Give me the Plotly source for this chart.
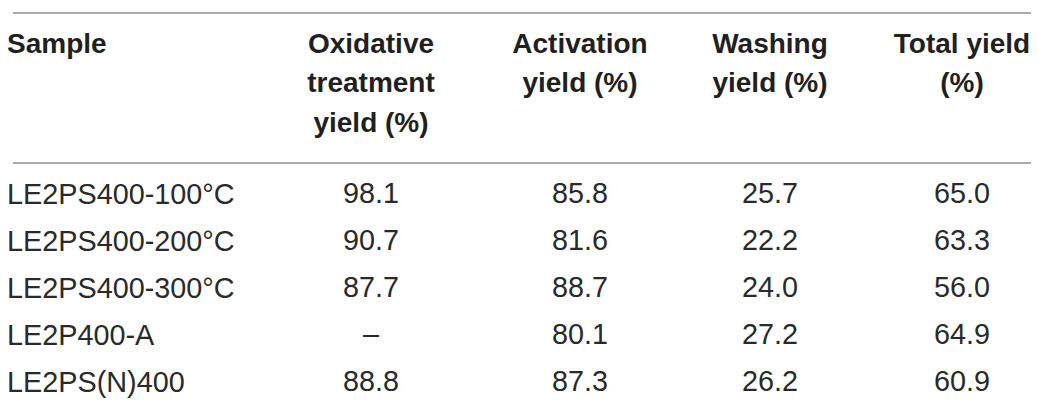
import plotly.graph_objects as go

# ---- data ----
header_sample = ["Sample"]
header_oxidative = ["Oxidative", "treatment", "yield (%)"]
header_activation = ["Activation", "yield (%)"]
header_washing = ["Washing", "yield (%)"]
header_total = ["Total yield", "(%)"]

samples = ["LE2PS400-100°C", "LE2PS400-200°C", "LE2PS400-300°C", "LE2P400-A", "LE2PS(N)400"]
oxidative_yield = [98.1, 90.7, 87.7, None, 88.8]
activation_yield = [85.8, 81.6, 88.7, 80.1, 87.3]
washing_yield = [25.7, 22.2, 24.0, 27.2, 26.2]
total_yield = [65.0, 63.3, 56.0, 64.9, 60.9]

# ---- layout constants (pixel space) ----
W, H = 1039, 402
col_x = [6, 363, 572, 762, 954]
header_line_y = [38, 77, 117]
row_y = [188, 235, 282, 329, 376]
TEXT = "#231f20"
BODY = "#2a2a2a"
RULE = "#8f8f8f"
FONT = "Liberation Sans, Arial, Helvetica, sans-serif"
HEAD_SIZE = 28
BODY_SIZE = 28.8


def fmt(v):
    return "–" if v is None else f"{v:.1f}"


fig = go.Figure()

# left-aligned first column as annotations
for t in header_sample:
    fig.add_annotation(x=col_x[0], y=header_line_y[0], xref="x", yref="y",
                       text=f"<b>{t}</b>", showarrow=False, xanchor="left", yanchor="middle",
                       xshift=-9, yshift=3,
                       font=dict(family=FONT, size=HEAD_SIZE, color=TEXT))
for j, s in enumerate(samples):
    fig.add_annotation(x=col_x[0], y=row_y[j], xref="x", yref="y",
                       text=s, showarrow=False, xanchor="left", yanchor="middle",
                       xshift=-9, yshift=2,
                       font=dict(family=FONT, size=BODY_SIZE, color=BODY))

headers = [header_oxidative, header_activation, header_washing, header_total]
for i, lines in enumerate(headers, start=1):
    fig.add_trace(go.Scatter(
        x=[col_x[i]] * len(lines),
        y=header_line_y[:len(lines)],
        text=[f"<b>{t}</b>" for t in lines],
        mode="text",
        textposition="middle center",
        textfont=dict(family=FONT, size=HEAD_SIZE, color=TEXT),
        hoverinfo="skip", showlegend=False,
    ))

columns = [[fmt(v) for v in oxidative_yield],
           [fmt(v) for v in activation_yield],
           [fmt(v) for v in washing_yield],
           [fmt(v) for v in total_yield]]
for i, vals in enumerate(columns, start=1):
    fig.add_trace(go.Scatter(
        x=[col_x[i]] * len(vals),
        y=row_y[:len(vals)],
        text=vals,
        mode="text",
        textposition="middle center",
        textfont=dict(family=FONT, size=BODY_SIZE, color=BODY),
        hoverinfo="skip", showlegend=False,
    ))

for yline in [5, 155]:
    fig.add_shape(type="line", xref="x", yref="y", x0=5, x1=1033, y0=yline, y1=yline,
                  line=dict(color=RULE, width=1.5))

fig.update_layout(
    width=W, height=H,
    margin=dict(l=0, r=0, t=0, b=0),
    paper_bgcolor="white", plot_bgcolor="white",
    xaxis=dict(range=[0, W], visible=False, fixedrange=True),
    yaxis=dict(range=[H, 0], visible=False, fixedrange=True),
)

fig.write_html("out.html", config={"displayModeBar": False})
